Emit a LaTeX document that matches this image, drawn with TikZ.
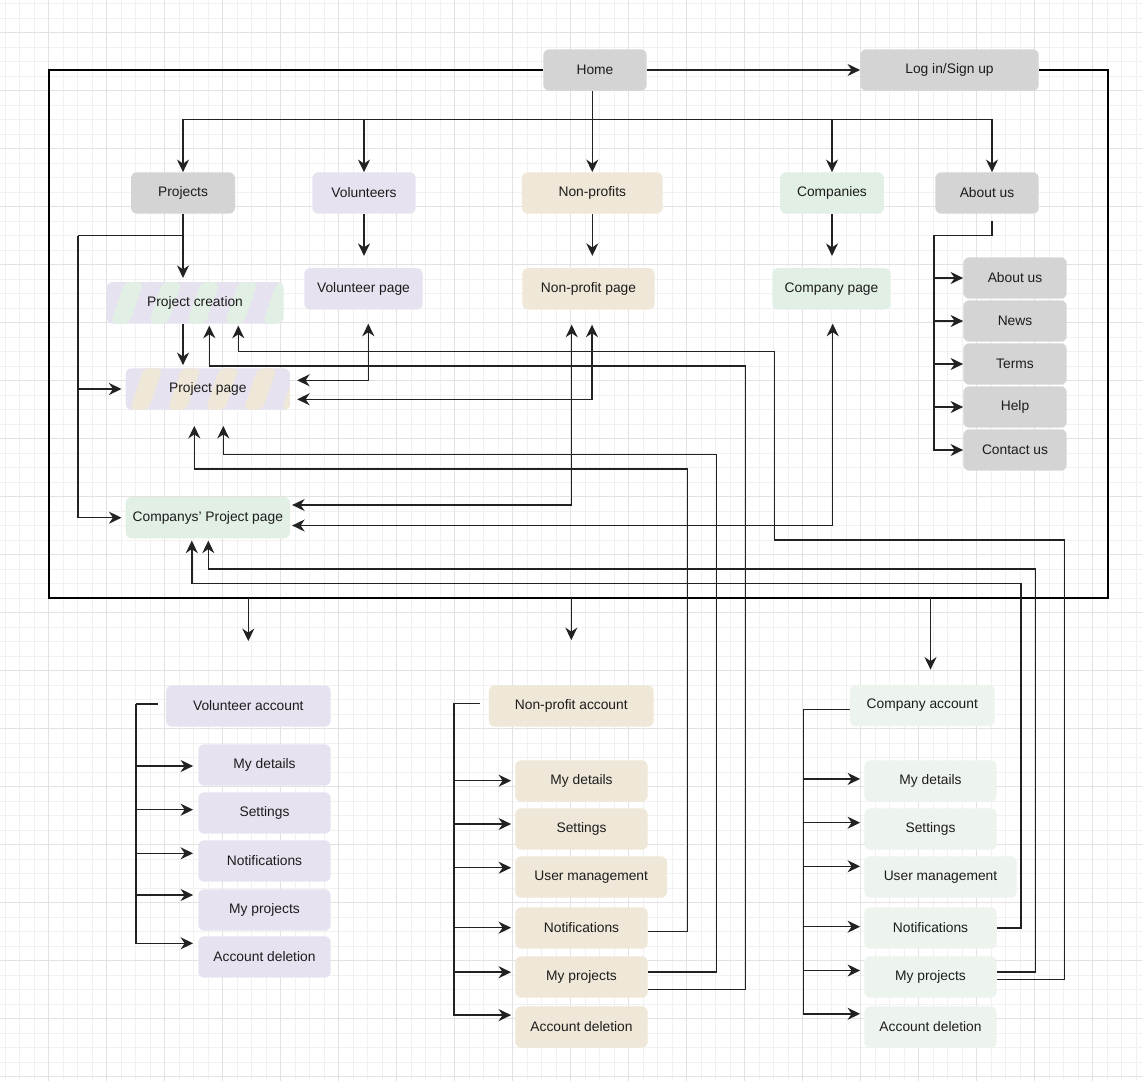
\documentclass[tikz,border=0pt]{standalone}
\usepackage{fontspec}
\setmainfont{Liberation Sans}
\usetikzlibrary{arrows.meta}
\definecolor{SiteInk}{HTML}{1C1C1C}
\definecolor{SiteLine}{HTML}{222222}
\definecolor{SiteGray}{HTML}{D4D4D4}
\definecolor{SiteLavender}{HTML}{E7E2EF}
\definecolor{SiteBeige}{HTML}{EFE7D7}
\definecolor{SiteGreen}{HTML}{E1EFE5}
\definecolor{SiteMint}{HTML}{EDF4EE}
\definecolor{SiteGridMinor}{HTML}{F1F1F1}
\definecolor{SiteGridMajor}{HTML}{E2E2E2}

\begin{document}
\begin{tikzpicture}[x=1pt,y=-1pt,
    box/.style={rounded corners=6pt, minimum height=41.4pt, inner sep=0pt, text=SiteInk,
      font=\fontsize{13.8}{16}\selectfont},
    link/.style={draw=SiteLine, line width=1.5pt},
    arrow/.style={link, -{Stealth[length=12.5pt,width=12pt,inset=4pt]}},
    twoway/.style={link, {Stealth[length=12.5pt,width=12pt,inset=4pt]}-{Stealth[length=12.5pt,width=12pt,inset=4pt]}},
    loopline/.style={draw=black, line width=2pt},
    stripes/.style 2 args={fill=#1, path picture={
      \foreach \k in {0,...,6}{
        \fill[#2] ([xshift=\k*38-34]path picture bounding box.south west) -- ++(19,0) -- ++(14,-41.4) -- ++(-19,0) -- cycle;
      }}}]
    \useasboundingbox (0,0) rectangle (1142,1081);
    \fill[white] (0,0) rectangle (1142,1081);
    \foreach \i in {0,...,78} {
      \draw[SiteGridMinor, line width=0.8pt] ({5.2+\i*14.5},0) -- ({5.2+\i*14.5},1081);
    }
    \foreach \j in {0,...,74} {
      \draw[SiteGridMinor, line width=0.8pt] (0,{3.7+\j*14.5}) -- (1142,{3.7+\j*14.5});
    }
    \foreach \i in {0,...,18} {
      \draw[SiteGridMajor, line width=0.8pt] ({48.7+\i*58},0) -- ({48.7+\i*58},1081);
      \draw[SiteGridMajor, line width=0.8pt] (0,{32.7+\i*58}) -- (1142,{32.7+\i*58});
    }

    \node[box, fill=SiteGray, minimum width=103.4pt] (home) at (595,70) {Home};
    \node[box, fill=SiteGray, minimum width=178.4pt] (login) at (949.5,70) {Log in/Sign up};
    \node[box, fill=SiteGray, minimum width=104pt] (projects) at (183,193) {Projects};
    \node[box, fill=SiteLavender, minimum width=103.4pt] (volunteers) at (364,193) {Volunteers};
    \node[box, fill=SiteBeige, minimum width=140.7pt] (nonprofits) at (592.3,193) {Non-profits};
    \node[box, fill=SiteGreen, minimum width=103.7pt] (companies) at (832,193) {Companies};
    \node[box, fill=SiteGray, minimum width=103.4pt] (aboutus) at (987,193) {About us};

    \node[box, stripes={SiteLavender}{SiteGreen}, minimum width=176.6pt] (projCreation) at (195,302.8) {Project creation};
    \node[box, fill=SiteLavender, minimum width=118.4pt] (volPage) at (363.5,288.8) {Volunteer page};
    \node[box, fill=SiteBeige, minimum width=132.4pt] (npPage) at (588.5,288.8) {Non-profit page};
    \node[box, fill=SiteGreen, minimum width=118.4pt] (coPage) at (831.5,288.8) {Company page};
    \node[box, stripes={SiteLavender}{SiteBeige}, minimum width=164.3pt] (projPage) at (207.8,389) {Project page};
    \node[box, fill=SiteGreen, minimum width=164.3pt] (coProjPage) at (207.8,517.7) {Companys’ Project page};

    \foreach \n/\y/\t in {aboutSub/278/About us, news/321/News, terms/364/Terms, help/407/Help, contact/450/Contact us} {
      \node[box, fill=SiteGray, minimum width=103.4pt] (\n) at (1015,\y) {\t};
    }

    \node[box, fill=SiteLavender, minimum width=164.7pt] (volAcc) at (248.3,706) {Volunteer account};
    \foreach \n/\y/\t in {volDetails/765/My details, volSettings/813/Settings, volNotif/861/Notifications,
        volProj/910/My projects, volDelete/957/Account deletion} {
      \node[box, fill=SiteLavender, minimum width=132.4pt] (\n) at (264.5,\y) {\t};
    }

    \node[box, fill=SiteBeige, minimum width=164.7pt] (npAcc) at (571.3,706) {Non-profit account};
    \foreach \n/\y/\t in {npDetails/781/My details, npSettings/829/Settings, npNotif/928/Notifications,
        npProj/977/My projects, npDelete/1027/Account deletion} {
      \node[box, fill=SiteBeige, minimum width=132.4pt] (\n) at (581.5,\y) {\t};
    }
    \node[box, fill=SiteBeige, minimum width=151.7pt] (npUsers) at (591.2,877) {User management};

    \node[box, fill=SiteMint, minimum width=144.7pt] (coAcc) at (922.3,705.5) {Company account};
    \foreach \n/\y/\t in {coDetails/781/My details, coSettings/829/Settings, coNotif/928/Notifications,
        coProj/977/My projects, coDelete/1027/Account deletion} {
      \node[box, fill=SiteMint, minimum width=132.4pt] (\n) at (930.5,\y) {\t};
    }
    \node[box, fill=SiteMint, minimum width=152.4pt] (coUsers) at (940.5,877) {User management};

    \coordinate (loopSW) at (49,598);
    \coordinate (loopNE) at (1108,70);
    \draw[loopline] (home.west) -| (loopSW) -| (loopNE) -- (login.east);
    \draw[arrow] (home.east) -- (login.west);

    \coordinate (bus) at (592.3,119.3);
    \draw[arrow] (nonprofits.north |- home.south) -- (nonprofits.north);
    \draw[arrow] (bus) -| (projects.north);
    \draw[arrow] (bus) -| (volunteers.north);
    \draw[arrow] (bus) -| (companies.north);
    \draw[arrow] (bus) -| ([xshift=5pt]aboutus.north);

    \coordinate (projFork) at (78,235.7);
    \draw[link] (projects.south) |- (projFork);
    \draw[arrow, shorten >=4pt] (projects.south) -- (projects.south |- projCreation.north);
    \draw[arrow, shorten >=4pt] (projFork) |- (projPage.west);
    \draw[arrow, shorten >=4pt] (projFork) |- (coProjPage.west);
    \draw[arrow, shorten >=3pt] (projCreation.south -| projects.south) -- (projPage.north -| projects.south);

    \draw[arrow, shorten >=12pt] (volunteers.south) -- (volunteers.south |- volPage.north);
    \draw[arrow, shorten >=12pt] (nonprofits.south) -- (nonprofits.south |- npPage.north);
    \draw[arrow, shorten >=12pt] (companies.south) -- (companies.south |- coPage.north);

    \coordinate (aboutFork) at (934,235.3);
    \draw[link] ([xshift=5pt,yshift=-7pt]aboutus.south) |- (aboutFork);
    \foreach \n in {aboutSub,news,terms,help,contact} {
      \draw[arrow] (aboutFork) |- (\n.west);
    }

    \draw[twoway, shorten <=14pt, shorten >=7pt] ([xshift=4.8pt]volPage.south) |- ([yshift=8.7pt]projPage.east);
    \draw[twoway, shorten <=15pt, shorten >=7pt] ([xshift=3.5pt]npPage.south) |- ([yshift=-10.3pt]projPage.east);
    \draw[twoway, shorten <=15pt, shorten >=2pt] ([xshift=-16.8pt]npPage.south) |- ([yshift=12.7pt]coProjPage.east);
    \draw[twoway, shorten <=14pt, shorten >=2pt] ([xshift=1.2pt]coPage.south) |- ([yshift=-7.8pt]coProjPage.east);

    \draw[arrow, shorten >=2pt] ([yshift=-12.5pt]npProj.east) -| (745.7,366) -| ([xshift=14.3pt]projCreation.south);
    \draw[arrow, shorten >=16pt] ([yshift=4.8pt]npProj.east) -| (716.3,454.3) -| ([xshift=15.5pt]projPage.south);
    \draw[arrow, shorten >=16pt] ([yshift=-3.3pt]npNotif.east) -| (687.3,469) -| ([xshift=-13.5pt]projPage.south);
    \draw[arrow, shorten >=2pt] ([yshift=-2.5pt]coProj.east) -| (1064.3,540) -| (774.7,351.7) -| ([xshift=43.3pt]projCreation.south);
    \draw[arrow, shorten >=2pt] ([yshift=4.8pt]coProj.east) -| (1035.7,569) -| ([xshift=0.5pt]coProjPage.south);
    \draw[arrow, shorten >=2pt] (coNotif.east) -| (1021,583.3) -| ([xshift=-16pt]coProjPage.south);

    \draw[arrow, shorten >=44pt] (volAcc.north |- loopSW) -- (volAcc.north);
    \draw[arrow, shorten >=45pt] (npAcc.north |- loopSW) -- (npAcc.north);
    \draw[arrow, shorten >=15pt] (coDetails.north |- loopSW) -- (coDetails.north |- coAcc.north);

    \coordinate (volFork) at (136,704);
    \draw[link] (volFork) -- ++(22.3,0);
    \foreach \n/\s in {volDetails/-1, volSettings/3.3, volNotif/7.7, volProj/15, volDelete/13.7} {
      \draw[arrow, shorten >=5pt] (volFork) |- ([yshift=\s]\n.west);
    }
    \coordinate (npFork) at (454,703.3);
    \draw[link] (npFork) -- ++(26,0);
    \foreach \n/\s in {npDetails/0.3, npSettings/5, npUsers/9.3, npNotif/0.3, npProj/4.8, npDelete/11.9} {
      \draw[arrow, shorten >=4pt] (npFork) |- ([yshift=\s]\n.west);
    }
    \coordinate (coFork) at (803.3,709.7);
    \draw[link] (coFork) -- (coAcc.west |- coFork);
    \foreach \n/\s in {coDetails/2.1, coSettings/6.3, coUsers/10.7, coNotif/1.3, coProj/6.5, coDelete/13.2} {
      \draw[arrow, shorten >=4pt] (coFork) |- ([yshift=\s]\n.west);
    }
  \end{tikzpicture}
\end{document}
